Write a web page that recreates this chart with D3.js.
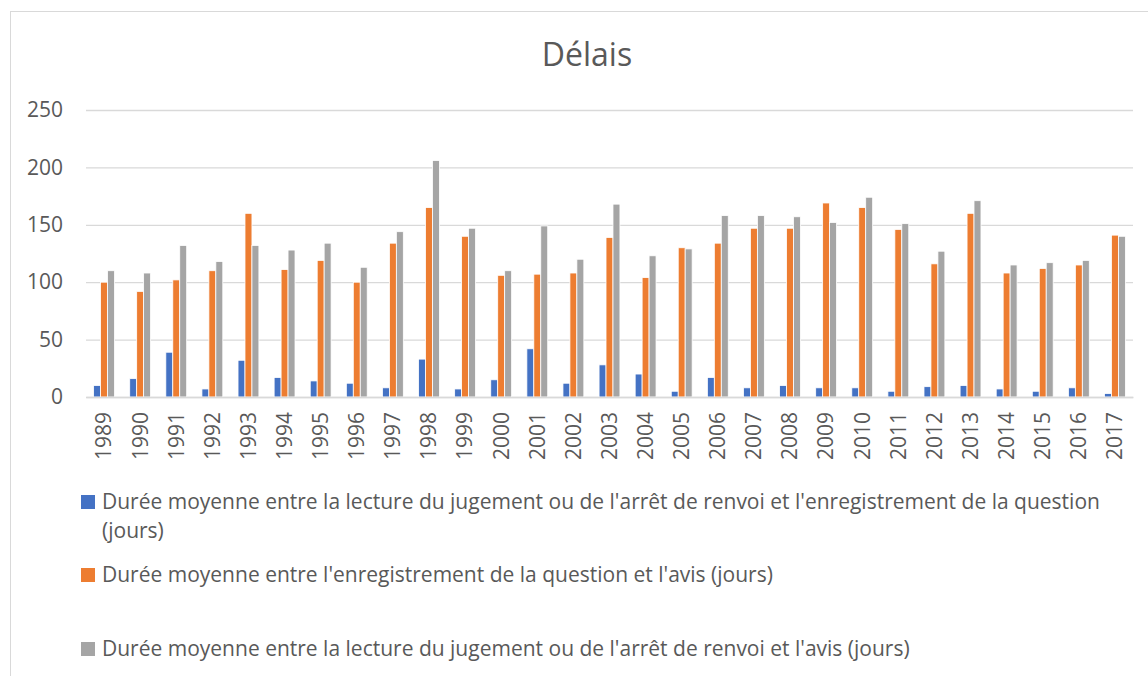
<!DOCTYPE html>
<html>
<head>
<meta charset="utf-8">
<script src="https://cdn.jsdelivr.net/npm/d3@7"></script>
<style>
  body { margin: 0; background: #ffffff; }
  svg { display: block; font-family: "Open Sans", "DejaVu Sans", sans-serif; }
</style>
</head>
<body>
<svg class="one"></svg>
<script>
var years = ["1989","1990","1991","1992","1993","1994","1995","1996","1997","1998",
             "1999","2000","2001","2002","2003","2004","2005","2006","2007","2008",
             "2009","2010","2011","2012","2013","2014","2015","2016","2017"];

var seriesNames = [
  "Durée moyenne entre la lecture du jugement ou de l'arrêt de renvoi et l'enregistrement de la question (jours)",
  "Durée moyenne entre l'enregistrement de la question et l'avis (jours)",
  "Durée moyenne entre la lecture du jugement ou de l'arrêt de renvoi et l'avis (jours)"
];

var lectureEnregistrement = [10,16,39,7,32,17,14,12,8,33,7,15,42,12,28,20,5,17,8,10,8,8,5,9,10,7,5,8,3];
var enregistrementAvis = [100,92,102,110,160,111,119,100,134,165,140,106,107,108,139,104,130,134,147,147,169,165,146,116,160,108,112,115,141];
var lectureAvis = [110,108,132,118,132,128,134,113,144,206,147,110,149,120,168,123,129,158,158,157,152,174,151,127,171,115,117,119,140];

var yTicks = [0,50,100,150,200,250];

var colors = ["#4472C4","#ED7D31","#A5A5A5"];

var drawGraph = function(w,h,c)
{
  var screen = { width:w, height:h };

  var svg = d3.select(c)
              .attr("width",screen.width)
              .attr("height",screen.height);

  var margins = { top:110, bottom:279, left:86, right:15 };

  var width = screen.width - margins.left - margins.right;
  var height = screen.height - margins.top - margins.bottom;

  // chart frame
  svg.append("rect")
     .attr("x",10.5)
     .attr("y",11.5)
     .attr("width",screen.width+20)
     .attr("height",screen.height+20)
     .attr("fill","white")
     .attr("stroke","#d9d9d9");

  svg.append("text")
     .attr("x",587)
     .attr("y",66)
     .attr("text-anchor","middle")
     .attr("font-size",32)
     .attr("fill","#595959")
     .text("Délais");

  var table = years.map(function(y,i) {
    return { year:y, values:[lectureEnregistrement[i], enregistrementAvis[i], lectureAvis[i]] };
  });

  var xScale = d3.scaleBand()
                 .domain(years)
                 .range([0,width]);

  var groupWidth = xScale.bandwidth()*3/5.19;
  var xInner = d3.scaleBand()
                 .domain([0,1,2])
                 .range([0,groupWidth]);

  var yScale = d3.scaleLinear()
                 .domain([0,250])
                 .range([height,0]);

  var plotLand = svg.append("g")
                    .classed("plot",true)
                    .attr("transform","translate("+margins.left+","+margins.top+")");

  // gridlines
  var yAxis = d3.axisLeft(yScale)
                .tickValues(yTicks)
                .tickSize(-width)
                .tickPadding(23);

  var yG = plotLand.append("g").classed("yAxis",true).call(yAxis);
  yG.select(".domain").remove();
  yG.selectAll("line").attr("stroke","#d9d9d9").attr("stroke-width",1.3);
  yG.selectAll("text")
    .attr("font-size",21)
    .attr("fill","#595959")
    .attr("font-family","Open Sans");

  var groups = plotLand.selectAll("g.year")
                       .data(table)
                       .enter()
                       .append("g")
                       .classed("year",true)
                       .attr("transform",function(d) {
                         return "translate("+(xScale(d.year)+(xScale.bandwidth()-groupWidth)/2)+",0)";
                       });

  groups.selectAll("rect")
        .data(function(d) { return d.values; })
        .enter()
        .append("rect")
        .attr("x",function(d,i) { return xInner(i); })
        .attr("y",function(d) { return yScale(d); })
        .attr("width",xInner.bandwidth())
        .attr("height",function(d) { return height - yScale(d); })
        .attr("fill",function(d,i) { return colors[i]; })
        .attr("stroke","white")
        .attr("stroke-width",0.8);

  var xAxis = d3.axisBottom(xScale).tickSize(0).tickPadding(0);

  var xG = plotLand.append("g").classed("xAxis",true)
                   .attr("transform","translate(0,"+height+")")
                   .call(xAxis);
  xG.select(".domain").attr("stroke","#d9d9d9").attr("stroke-width",1.3);
  xG.selectAll("text")
    .attr("font-size",21)
    .attr("fill","#595959")
    .attr("font-family","Open Sans")
    .attr("text-anchor","end")
    .attr("transform","rotate(-90)")
    .attr("x",-15)
    .attr("y",0)
    .attr("dy","0.35em");

  // legend
  var legend = svg.append("g").classed("legend",true);
  var legendRows = [
    { lines:["Durée moyenne entre la lecture du jugement ou de l'arrêt de renvoi et l'enregistrement de la question","(jours)"], y:509 },
    { lines:[seriesNames[1]], y:582 },
    { lines:[seriesNames[2]], y:656 }
  ];

  var legendLines = legend.selectAll("g")
                          .data(legendRows)
                          .enter()
                          .append("g")
                          .classed("legendLine",true);

  legendLines.append("rect")
             .attr("x",81)
             .attr("y",function(d) { return d.y-14; })
             .attr("width",14)
             .attr("height",14)
             .attr("fill",function(d,i) { return colors[i]; });

  legendLines.each(function(d) {
    var t = d3.select(this).append("text")
              .attr("font-size",21)
              .attr("fill","#595959");
    d.lines.forEach(function(l,k) {
      t.append("tspan").attr("x",102).attr("y",d.y+k*29).text(l);
    });
  });
}

drawGraph(1148,676,".one");
</script>
</body>
</html>
